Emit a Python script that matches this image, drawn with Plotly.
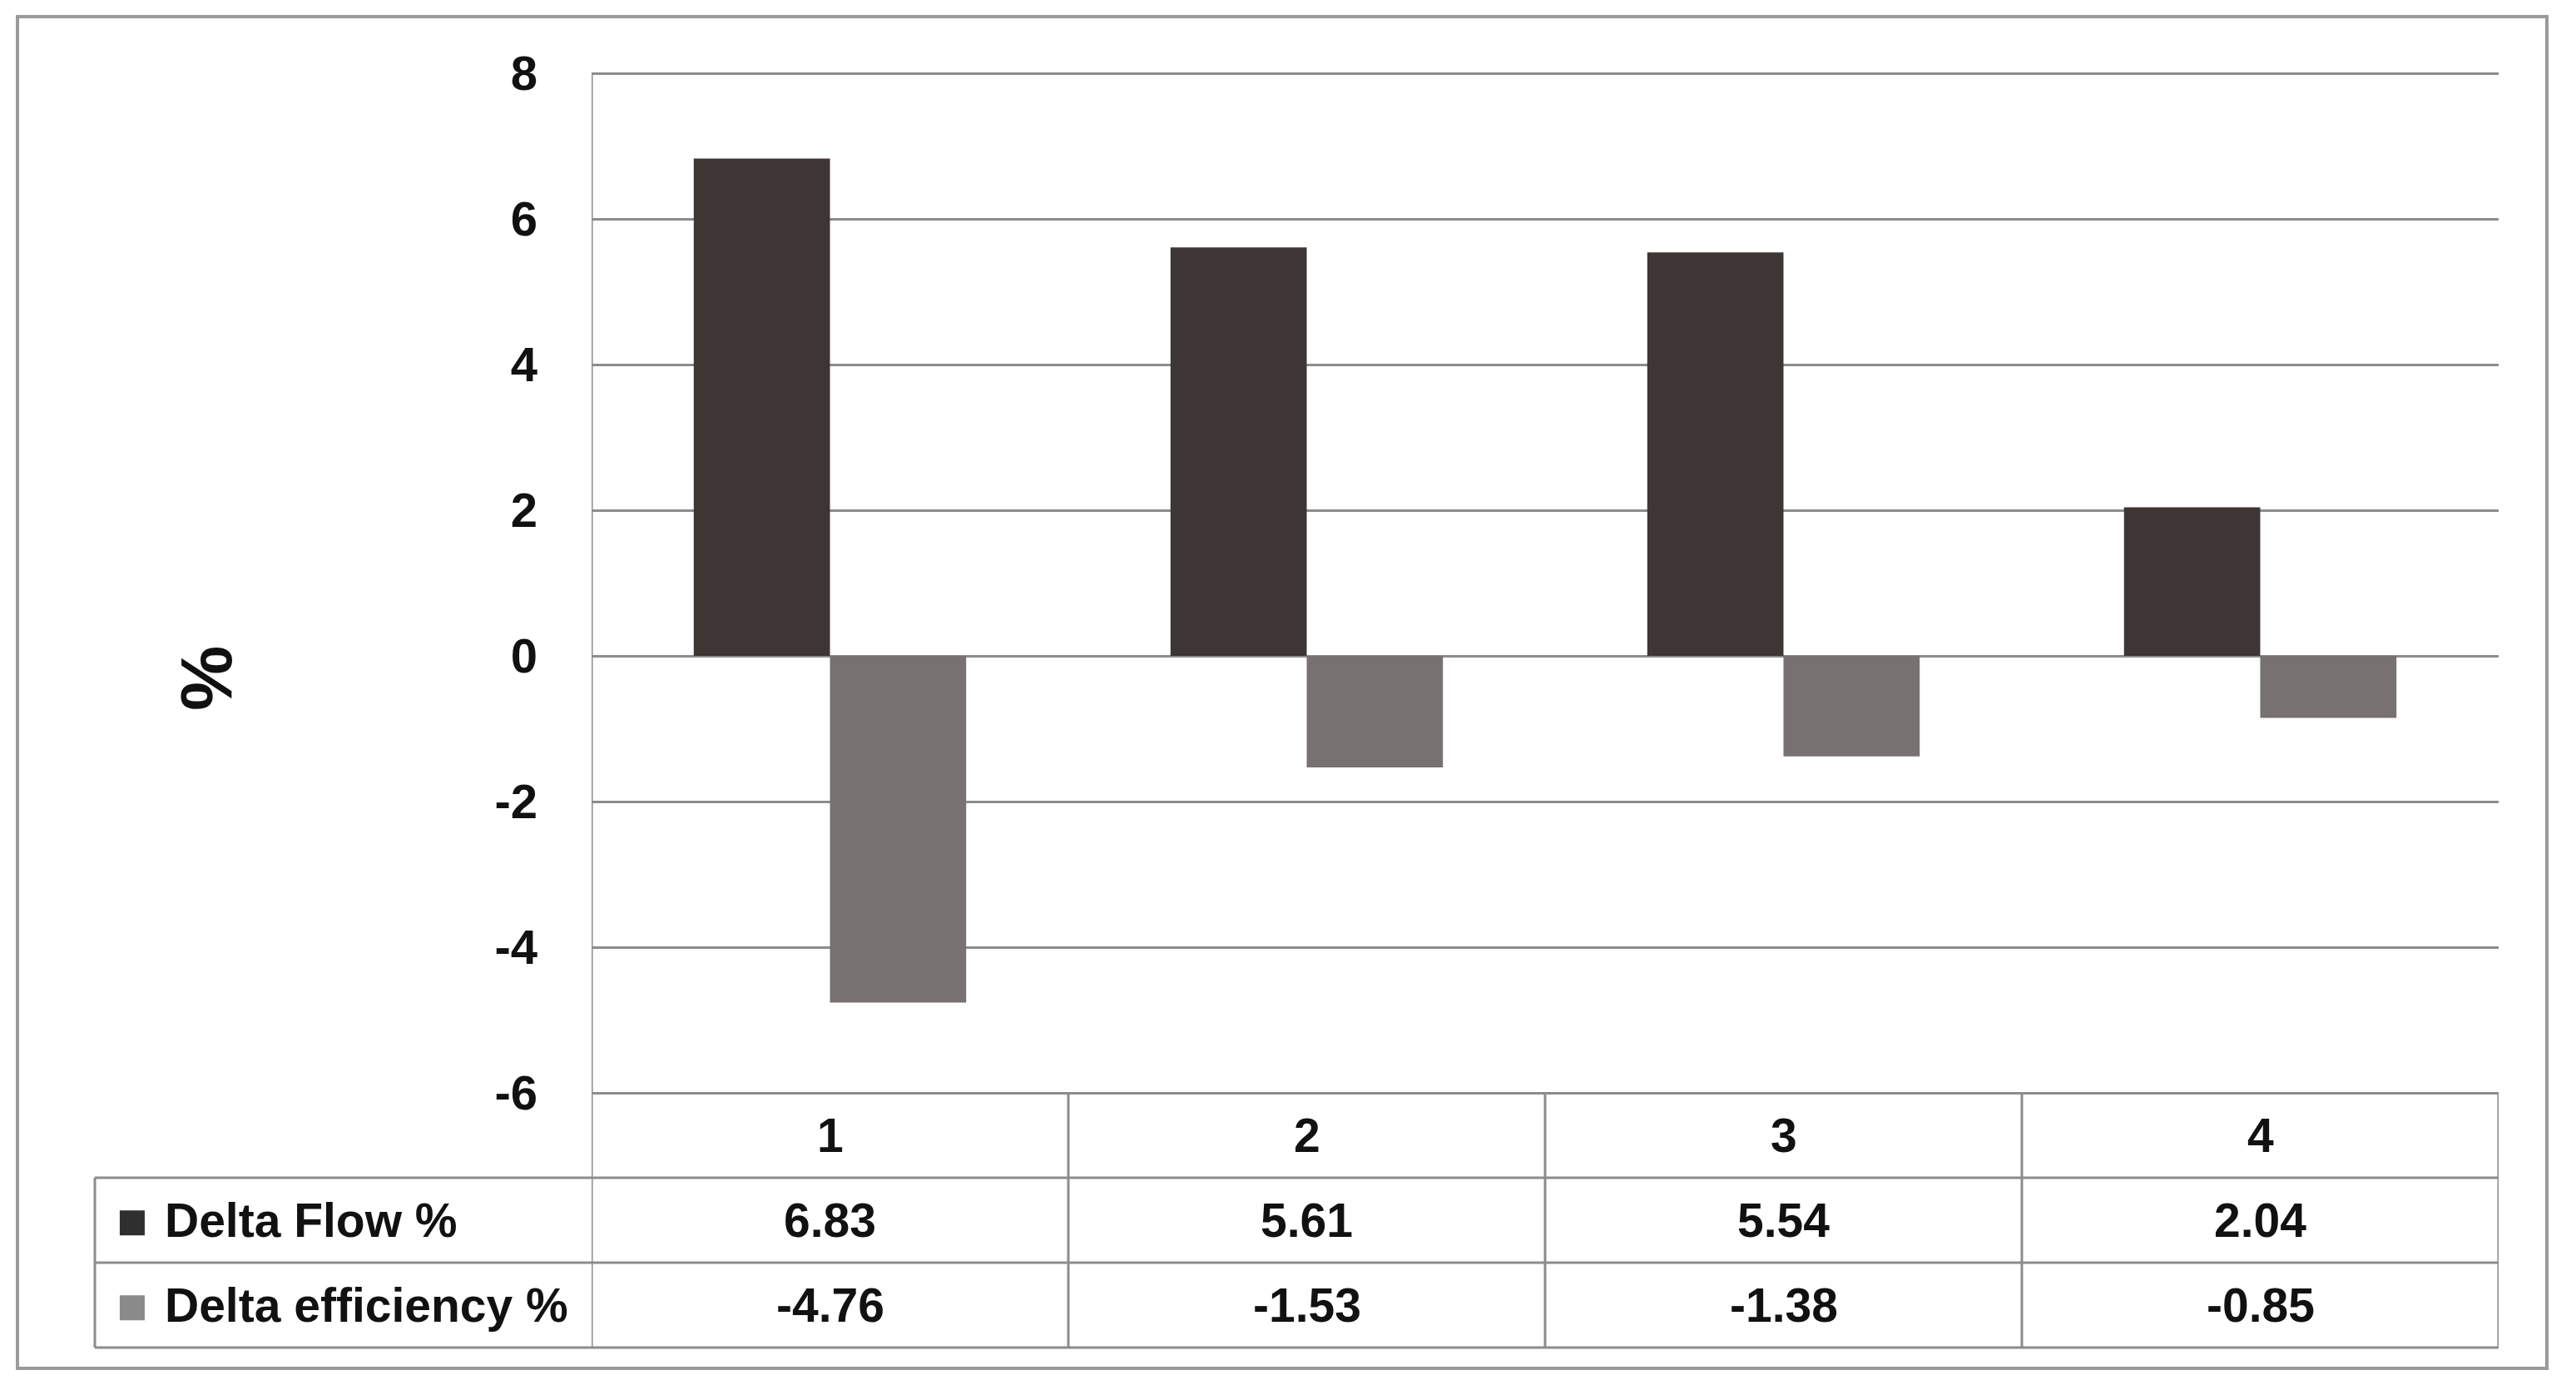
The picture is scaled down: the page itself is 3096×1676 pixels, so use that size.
import plotly.graph_objects as go

# ---------------- data ----------------
categories = [1, 2, 3, 4]
category_labels = ["1", "2", "3", "4"]
series_names = ["Delta Flow %", "Delta efficiency %"]
delta_flow = [6.83, 5.61, 5.54, 2.04]
delta_eff = [-4.76, -1.53, -1.38, -0.85]
y_ticks = [-6, -4, -2, 0, 2, 4, 6, 8]

# ---------------- layout constants ----------------
W, H = 3096, 1676
px_x = lambda p: p / W
px_y = lambda p: 1 - p / H

plot_left, plot_right = 711, 3003
plot_top, plot_bottom = 88, 1313
row_h = 102
table_left = 114
pad = 0.02  # tiny range padding so edge gridlines are drawn
ppu = (plot_bottom - plot_top) / (max(y_ticks) - min(y_ticks))

bar_dark = "#3d3634"
bar_light = "#787171"
key_dark = "#2f2f2f"
key_light = "#8a8a8a"
grid_col = "#8c8c8c"
FONT = "Liberation Sans, Arial, sans-serif"
TXT = "#111111"

fig = go.Figure()
fig.add_trace(go.Bar(x=categories, y=delta_flow, name=series_names[0],
                     marker=dict(color=bar_dark, line=dict(width=0))))
fig.add_trace(go.Bar(x=categories, y=delta_eff, name=series_names[1],
                     marker=dict(color=bar_light, line=dict(width=0))))

fig.update_layout(
    width=W, height=H, margin=dict(l=0, r=0, t=0, b=0, autoexpand=False),
    paper_bgcolor="white", plot_bgcolor="white",
    barmode="group", bargap=1.5 / 3.5, bargroupgap=0,
    showlegend=False,
    font=dict(family=FONT, color=TXT),
    xaxis=dict(domain=[px_x(plot_left), px_x(plot_right)], range=[0.5, 4.5],
               showticklabels=False, showgrid=False, zeroline=False,
               showline=False, ticks="", automargin=False),
    yaxis=dict(domain=[px_y(plot_bottom + pad * ppu), px_y(plot_top - pad * ppu)],
               range=[min(y_ticks) - pad, max(y_ticks) + pad],
               tickvals=y_ticks, ticktext=[str(v) for v in y_ticks],
               tickfont=dict(size=58, family=FONT, color=TXT, weight="bold"),
               showgrid=True, gridcolor=grid_col, gridwidth=3,
               zeroline=True, zerolinecolor=grid_col, zerolinewidth=3,
               showline=False, ticks="", ticklabelstandoff=64, automargin=False),
)

shapes = []
line = dict(color=grid_col, width=3)
# y axis line (from top gridline down through the table)
shapes.append(dict(type="line", xref="x", yref="y", x0=0.5, x1=0.5,
                   y0=min(y_ticks), y1=max(y_ticks), line=line))
# horizontal table lines
for k in range(1, 4):
    yy = px_y(plot_bottom + k * row_h)
    shapes.append(dict(type="line", xref="paper", yref="paper",
                       x0=px_x(table_left), x1=px_x(plot_right), y0=yy, y1=yy, line=line))
# vertical table lines at category boundaries
y_tab_top = px_y(plot_bottom)
y_tab_bot = px_y(plot_bottom + 3 * row_h)
for b in [0.5, 1.5, 2.5, 3.5, 4.5]:
    shapes.append(dict(type="line", xref="x", yref="paper",
                       x0=b, x1=b, y0=y_tab_top, y1=y_tab_bot, line=line))
# left edge of the label column
shapes.append(dict(type="line", xref="paper", yref="paper",
                   x0=px_x(table_left), x1=px_x(table_left),
                   y0=px_y(plot_bottom + row_h), y1=y_tab_bot, line=line))
# outer border
shapes.append(dict(type="rect", xref="paper", yref="paper",
                   x0=px_x(21), x1=px_x(3061), y0=px_y(1644), y1=px_y(20),
                   line=dict(color="#9a9a9a", width=4), fillcolor="rgba(0,0,0,0)"))
fig.update_layout(shapes=shapes)

ann = []
tf = dict(size=57, family=FONT, color=TXT, weight="bold")
# header row
for c, lab in zip(categories, category_labels):
    ann.append(dict(x=c, y=px_y(plot_bottom + row_h / 2), xref="x", yref="paper",
                    text=lab, showarrow=False, font=tf, xanchor="center", yanchor="middle"))
# values rows
for r, vals in enumerate([delta_flow, delta_eff]):
    yc = px_y(plot_bottom + row_h * (r + 1.5))
    for c, v in zip(categories, vals):
        ann.append(dict(x=c, y=yc, xref="x", yref="paper", text=f"{v:.2f}",
                        showarrow=False, font=tf, xanchor="center", yanchor="middle"))
# row labels with legend keys
for r, (nm, kc) in enumerate(zip(series_names, [key_dark, key_light])):
    yc = px_y(plot_bottom + row_h * (r + 1.5))
    ann.append(dict(x=px_x(158), y=yc, xref="paper", yref="paper", text="■",
                    showarrow=False, font=dict(size=62, family=FONT, color=kc),
                    xanchor="center", yanchor="middle"))
    ann.append(dict(x=px_x(196), y=yc, xref="paper", yref="paper", text=nm,
                    showarrow=False, font=tf, xanchor="left", yanchor="middle"))
# y axis title
ann.append(dict(x=px_x(247), y=px_y(815), xref="paper", yref="paper", text="%",
                textangle=-90, showarrow=False,
                font=dict(size=88, family=FONT, color=TXT, weight="bold"),
                xanchor="center", yanchor="middle"))
fig.update_layout(annotations=ann)

fig.write_html("out.html", config={"displayModeBar": False},
               post_script="document.body.style.margin='0';")
